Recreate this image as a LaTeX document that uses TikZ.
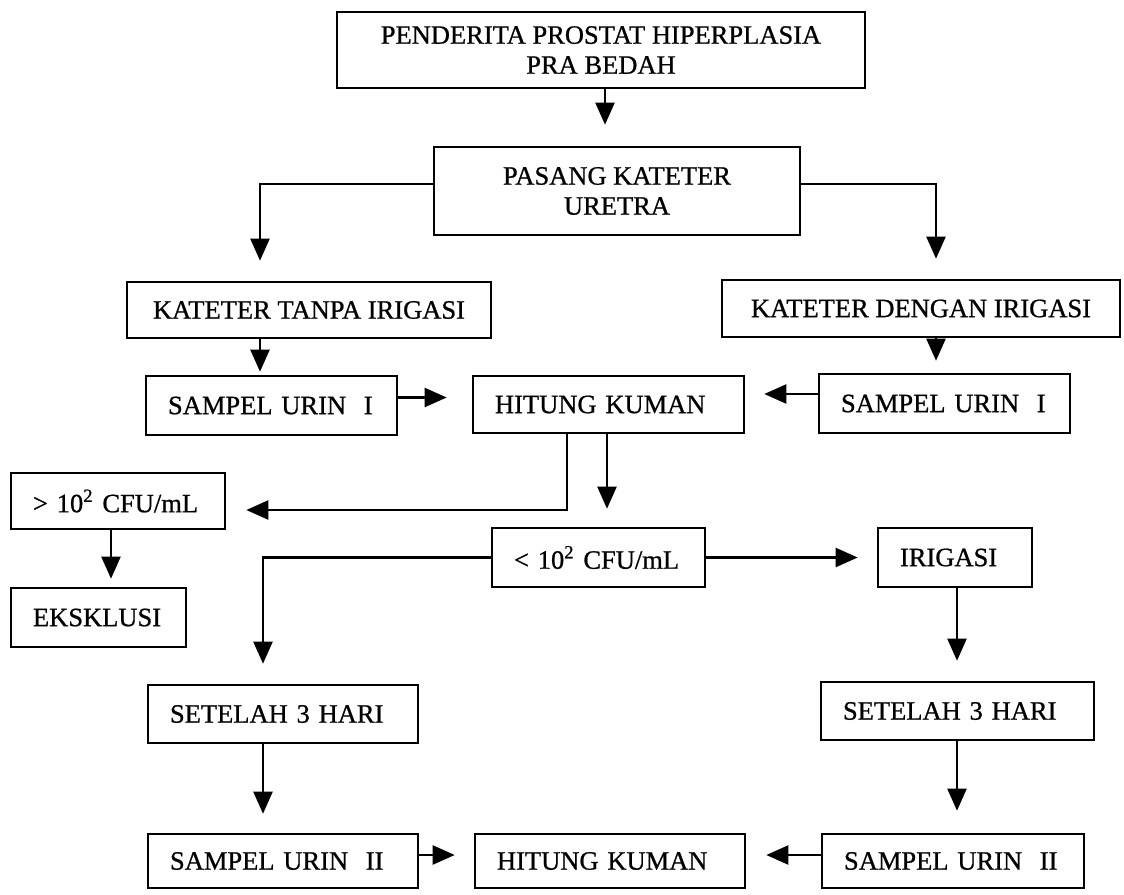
\documentclass[tikz,border=0pt]{standalone}
\usepackage{fontspec}
\setmainfont{Liberation Serif}[FakeBold=0.8]
\usetikzlibrary{arrows.meta,positioning}

\begin{document}
\begin{tikzpicture}[x=0.5pt,y=-0.5pt,>={Triangle[length=11pt,width=9.5pt]},
  font=\fontsize{13.25}{15}\selectfont,
  box/.style={draw,line width=1.3pt,inner sep=0pt,align=center},
  lbox/.style={draw,line width=1.3pt,inner xsep=11pt,inner ysep=0pt,align=left},
  arr/.style={->,line width=1.1pt}]
\useasboundingbox (0,0) rectangle (1124,894);
% boxes
\node[box,minimum width=264pt,minimum height=38pt] (pend) at (601,50) {PENDERITA PROSTAT HIPERPLASIA\\PRA BEDAH};
\node[box,minimum width=183pt,minimum height=44pt] (pasang) at (617,191) {PASANG KATETER\\URETRA};
\node[box,minimum width=182pt,minimum height=28pt] (kti) at (309,310) {KATETER TANPA IRIGASI};
\node[box,minimum width=199pt,minimum height=28.5pt] (kdi) at (921,308.5) {KATETER DENGAN IRIGASI};
\node[lbox,text width=103.5pt,minimum height=29.5pt] (sam1l) at (271.5,405.5) {SAMPEL URIN\ \ I};
\node[lbox,text width=113.5pt,minimum height=28.5pt] (hit1) at (608.5,404.5) {HITUNG KUMAN};
\node[lbox,text width=103.5pt,minimum height=29.5pt] (sam1r) at (944.5,403.5) {SAMPEL URIN\ \ I};
\node[lbox,text width=85pt,minimum height=28pt] (gt) at (118,501) {> 10\textsuperscript{2} CFU/mL};
\node[lbox,text width=65.5pt,minimum height=29.5pt] (eks) at (98.5,617.5) {EKSKLUSI};
\node[lbox,text width=84.5pt,minimum height=29.5pt] (lt) at (598.5,557.5) {< 10\textsuperscript{2} CFU/mL};
\node[lbox,text width=55pt,minimum height=29.5pt] (iri) at (955,557.5) {IRIGASI};
\node[lbox,text width=113pt,minimum height=29pt] (setl) at (283,714) {SETELAH 3 HARI};
\node[lbox,text width=114.5pt,minimum height=29pt] (setr) at (957.5,711) {SETELAH 3 HARI};
\node[lbox,text width=113pt,minimum height=27pt] (sam2l) at (283,861) {SAMPEL URIN\ \ II};
\node[lbox,text width=113pt,minimum height=27pt] (hit2) at (610,861) {HITUNG KUMAN};
\node[lbox,text width=109pt,minimum height=27pt] (sam2r) at (953,861) {SAMPEL URIN\ \ II};
% arrows
\draw[arr,shorten >=10.5pt] ([xshift=2pt]pend.south) -- ([xshift=2pt]pend.south |- pasang.north);
\draw[arr,shorten >=10pt] ([yshift=3.5pt]pasang.west) -| ([xshift=-24.5pt]kti.north);
\draw[arr,shorten >=10pt] ([yshift=3.5pt]pasang.east) -| ([xshift=7.5pt]kdi.north);
\draw[arr,shorten >=1.5pt] ([xshift=-24.5pt]kti.south) -- ([xshift=-24.5pt]kti.south |- sam1l.north);
\draw[arr,shorten >=6pt] ([xshift=7.5pt]kdi.south) -- ([xshift=7.5pt]kdi.south |- sam1r.north);
\draw[arr,shorten >=12.5pt] ([yshift=4pt]sam1l.east) -- ([yshift=4pt]sam1l.east -| hit1.west);
\draw[arr,shorten >=9.5pt] ([yshift=4.75pt]sam1r.west) -- ([yshift=4.75pt]sam1r.west -| hit1.east);
\draw[arr,shorten >=10pt] ([xshift=-20.75pt]hit1.south) |- ([yshift=-4.5pt]gt.east);
\draw[arr,shorten >=9pt] ([xshift=4.25pt]lt.north |- hit1.south) -- ([xshift=4.25pt]lt.north);
\draw[arr,shorten >=4pt] ([xshift=-3.5pt]gt.south) -- ([xshift=-3.5pt]gt.south |- eks.north);
\draw[arr,shorten >=10pt] (lt.west) -| ([xshift=-10pt]setl.north);
\draw[arr,shorten >=9.5pt] (lt.east) -- (lt.east -| iri.west);
\draw[arr,shorten >=10pt] ([xshift=1pt]iri.south) -- ([xshift=1pt]iri.south |- setr.north);
\draw[arr,shorten >=9.5pt] ([xshift=-10pt]setl.south) -- ([xshift=-10pt]setl.south |- sam2l.north);
\draw[arr,shorten >=11pt] ([xshift=-0.25pt]setr.south) -- ([xshift=-0.25pt]setr.south |- sam2r.north);
\draw[arr,shorten >=9.5pt] ([yshift=3pt]sam2l.east) -- ([yshift=3pt]sam2l.east -| hit2.west);
\draw[arr,shorten >=10pt] ([yshift=3pt]sam2r.west) -- ([yshift=3pt]sam2r.west -| hit2.east);
\end{tikzpicture}
\end{document}
